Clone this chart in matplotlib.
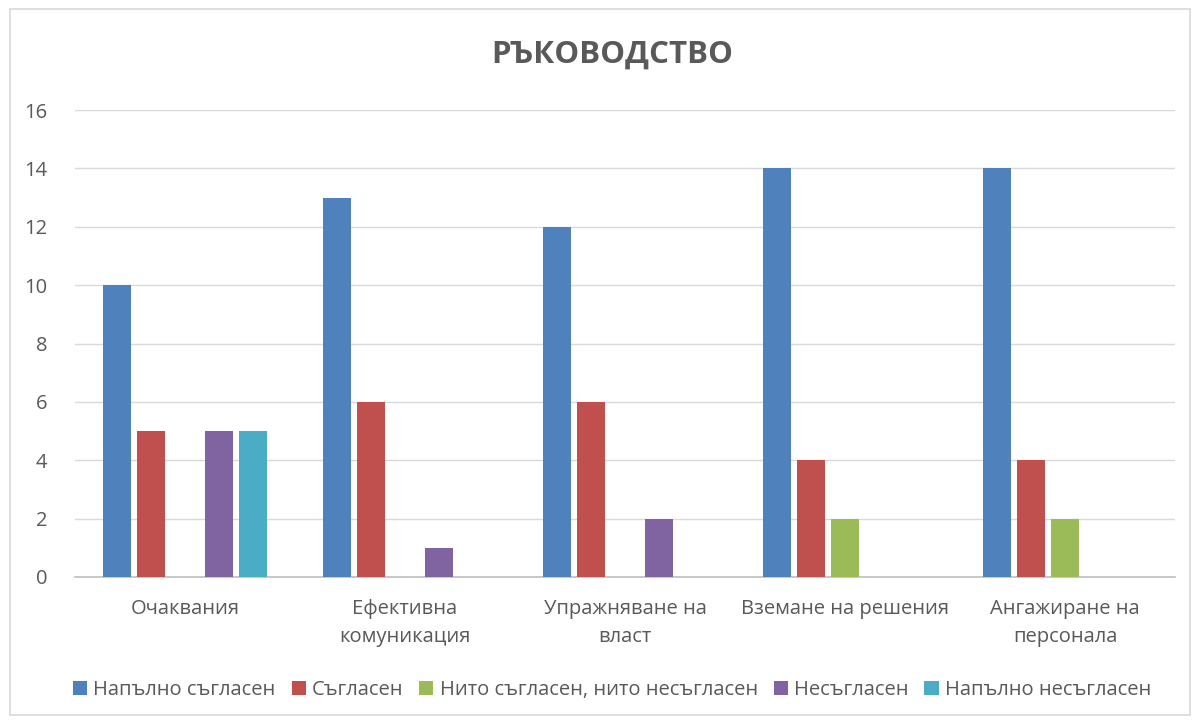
import numpy as np
import matplotlib
matplotlib.use("Agg")
import matplotlib.pyplot as plt
from matplotlib.patches import Rectangle

# ── Data ──────────────────────────────────────────────────────────────────────
categories = ["Очаквания", "Ефективна\nкомуникация", "Упражняване на\nвласт",
              "Вземане на решения", "Ангажиране на\nперсонала"]
series_names = ["Напълно съгласен", "Съгласен", "Нито съгласен, нито несъгласен",
                "Несъгласен", "Напълно несъгласен"]
fully_agree = [10, 13, 12, 14, 14]
agree = [5, 6, 6, 4, 4]
neutral = [0, 0, 0, 2, 2]
disagree = [5, 1, 2, 0, 0]
fully_disagree = [5, 0, 0, 0, 0]
colors = ["#4F81BD", "#C0504D", "#9BBB59", "#8064A2", "#4BACC6"]

plt.rcParams["font.family"] = ["Open Sans", "DejaVu Sans"]
text_color = "#595959"

fig = plt.figure(figsize=(12, 7.22), dpi=100)
fig.patches.append(Rectangle((10 / 1200, 7 / 722), 1180 / 1200, 706 / 722,
                             transform=fig.transFigure, fill=False,
                             edgecolor="#D9D9D9", linewidth=1.2))
ax = fig.add_axes([75 / 1200, 1 - 577 / 722, 1100 / 1200, (577 - 110) / 722])

x = np.arange(len(categories))
step = 0.154
width = 0.125
all_series = [fully_agree, agree, neutral, disagree, fully_disagree]
for i, vals in enumerate(all_series):
    ax.bar(x + (i - 2) * step, vals, width, color=colors[i],
           label=series_names[i], zorder=3)

ax.set_xlim(-0.5, len(categories) - 0.5)
ax.set_ylim(0, 16)
ax.set_yticks(range(0, 17, 2))
ax.set_xticks(x)
ax.set_xticklabels(categories, fontsize=14.5, color=text_color, linespacing=1.5)
ax.tick_params(axis="y", labelsize=14.5, colors=text_color, length=0, pad=20)
ax.tick_params(axis="x", length=0, pad=16)
ax.grid(axis="y", color="#D9D9D9", linewidth=1, zorder=0)
for s in ["top", "right", "left"]:
    ax.spines[s].set_visible(False)
ax.spines["bottom"].set_color("#BFBFBF")
ax.spines["bottom"].set_linewidth(1.2)

fig.text(0.51, 1 - 55 / 722, "РЪКОВОДСТВО", ha="center", va="center",
         fontsize=22.5, fontweight="bold", color=text_color)

fig.legend(loc="center", bbox_to_anchor=(0.51, 1 - 690 / 722), ncol=5,
           frameon=False, fontsize=14.5, labelcolor=text_color,
           handlelength=0.7, handleheight=0.7, handletextpad=0.3,
           columnspacing=0.8)

fig.savefig("out.png", dpi=100)
